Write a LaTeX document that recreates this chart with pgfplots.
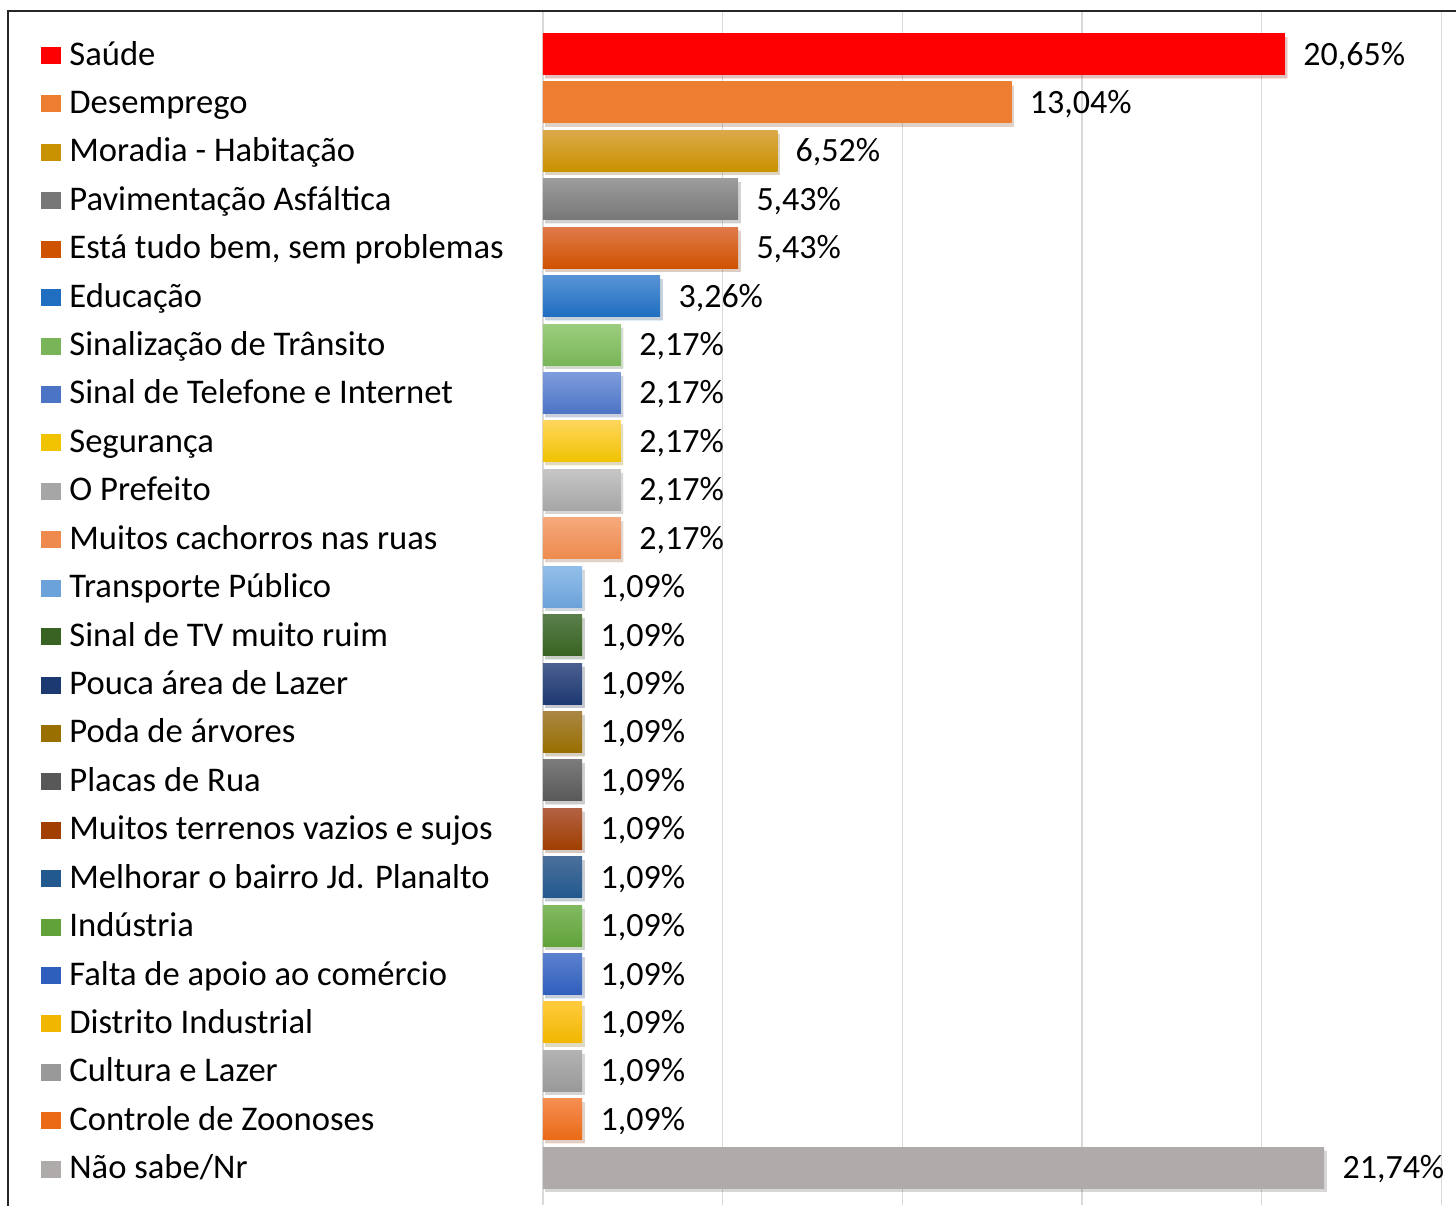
\documentclass[border=0pt]{standalone}
\usepackage{fontspec}
\setmainfont{Carlito}
\usepackage{pgfplots}
\pgfplotsset{compat=1.18}
\definecolor{a1}{HTML}{FF0000}\definecolor{b1}{HTML}{FF0000}
\definecolor{a2}{HTML}{ED7D31}\definecolor{b2}{HTML}{ED7D31}
\definecolor{a3}{HTML}{DBA94A}\definecolor{b3}{HTML}{C99200}
\definecolor{a4}{HTML}{9C9C9C}\definecolor{b4}{HTML}{777777}
\definecolor{a5}{HTML}{E07A4A}\definecolor{b5}{HTML}{CF5200}
\definecolor{a6}{HTML}{5893D6}\definecolor{b6}{HTML}{1F6EC0}
\definecolor{a7}{HTML}{9CCD7E}\definecolor{b7}{HTML}{79B558}
\definecolor{a8}{HTML}{7E9DDD}\definecolor{b8}{HTML}{4C74C5}
\definecolor{a9}{HTML}{FFD65C}\definecolor{b9}{HTML}{F0C200}
\definecolor{a10}{HTML}{C6C6C6}\definecolor{b10}{HTML}{A6A6A6}
\definecolor{a11}{HTML}{F5A97C}\definecolor{b11}{HTML}{EE8A4E}
\definecolor{a12}{HTML}{92BFE9}\definecolor{b12}{HTML}{6CA2DA}
\definecolor{a13}{HTML}{5B7F4B}\definecolor{b13}{HTML}{386322}
\definecolor{a14}{HTML}{4B5F91}\definecolor{b14}{HTML}{1D3971}
\definecolor{a15}{HTML}{AA8644}\definecolor{b15}{HTML}{996F00}
\definecolor{a16}{HTML}{7B7B7B}\definecolor{b16}{HTML}{585858}
\definecolor{a17}{HTML}{B26244}\definecolor{b17}{HTML}{A03F00}
\definecolor{a18}{HTML}{4B6F9A}\definecolor{b18}{HTML}{22598F}
\definecolor{a19}{HTML}{82BA62}\definecolor{b19}{HTML}{61A23A}
\definecolor{a20}{HTML}{5B81CD}\definecolor{b20}{HTML}{2F5FBD}
\definecolor{a21}{HTML}{FFCB3C}\definecolor{b21}{HTML}{F1B700}
\definecolor{a22}{HTML}{B2B2B2}\definecolor{b22}{HTML}{999999}
\definecolor{a23}{HTML}{F58E52}\definecolor{b23}{HTML}{EA6A16}
\definecolor{a24}{HTML}{AFABAB}\definecolor{b24}{HTML}{AFABAB}
\newcommand{\sq}[1]{\textcolor{#1}{\rule[0.5pt]{10pt}{8.5pt}}\hspace{4pt}}
\begin{document}
\begin{tikzpicture}
\begin{axis}[
  at={(0,0)}, anchor=south west,
  scale only axis, width=456.5pt, height=597pt,
  xbar, bar width=20.5pt, bar shift=0pt,
  xmin=0, xmax=25.41,
  ymin=-0.888, ymax=23.77, y dir=reverse,
  axis line style={draw=none},
  xtick={0,5,10,15,20,25}, xticklabels={},
  xmajorgrids, grid style={color=black!15, line width=0.75pt},
  ytick={0,...,23},
  major tick length=0pt,
  yticklabels={{\sq{a1}Saúde},{\sq{a2}Desemprego},{\sq{b3}Moradia - Habitação},{\sq{b4}Pavimentação Asfáltica},{\sq{b5}Está tudo bem, sem problemas},{\sq{b6}Educação},{\sq{b7}Sinalização de Trânsito},{\sq{b8}Sinal de Telefone e Internet},{\sq{b9}Segurança},{\sq{b10}O Prefeito},{\sq{b11}Muitos cachorros nas ruas},{\sq{b12}Transporte Público},{\sq{b13}Sinal de TV muito ruim},{\sq{b14}Pouca área de Lazer},{\sq{b15}Poda de árvores},{\sq{b16}Placas de Rua},{\sq{b17}Muitos terrenos vazios e sujos},{\sq{b18}Melhorar o bairro Jd. Planalto},{\sq{b19}Indústria},{\sq{b20}Falta de apoio ao comércio},{\sq{b21}Distrito Industrial},{\sq{b22}Cultura e Lazer},{\sq{b23}Controle de Zoonoses},{\sq{b24}Não sabe/Nr}},
  yticklabel style={anchor=base west, inner sep=0pt, xshift=-251pt, yshift=-5.5pt, font=\fontsize{17.3}{20}\selectfont},
  point meta=explicit symbolic,
  nodes near coords,
  nodes near coords style={anchor=base west, inner sep=0pt, xshift=9pt, yshift=-5.5pt, font=\fontsize{17}{20}\selectfont, text=black},
  every axis plot/.append style={draw=none, preaction={fill=black, fill opacity=0.13, transform canvas={xshift=1.2pt, yshift=-1.8pt}}},
  clip=false,
]
\addplot[top color=a1, bottom color=b1] coordinates {(20.65,0) [20,65\%]};
\addplot[top color=a2, bottom color=b2] coordinates {(13.04,1) [13,04\%]};
\addplot[top color=a3, bottom color=b3] coordinates {(6.52,2) [6,52\%]};
\addplot[top color=a4, bottom color=b4] coordinates {(5.43,3) [5,43\%]};
\addplot[top color=a5, bottom color=b5] coordinates {(5.43,4) [5,43\%]};
\addplot[top color=a6, bottom color=b6] coordinates {(3.26,5) [3,26\%]};
\addplot[top color=a7, bottom color=b7] coordinates {(2.17,6) [2,17\%]};
\addplot[top color=a8, bottom color=b8] coordinates {(2.17,7) [2,17\%]};
\addplot[top color=a9, bottom color=b9] coordinates {(2.17,8) [2,17\%]};
\addplot[top color=a10, bottom color=b10] coordinates {(2.17,9) [2,17\%]};
\addplot[top color=a11, bottom color=b11] coordinates {(2.17,10) [2,17\%]};
\addplot[top color=a12, bottom color=b12] coordinates {(1.09,11) [1,09\%]};
\addplot[top color=a13, bottom color=b13] coordinates {(1.09,12) [1,09\%]};
\addplot[top color=a14, bottom color=b14] coordinates {(1.09,13) [1,09\%]};
\addplot[top color=a15, bottom color=b15] coordinates {(1.09,14) [1,09\%]};
\addplot[top color=a16, bottom color=b16] coordinates {(1.09,15) [1,09\%]};
\addplot[top color=a17, bottom color=b17] coordinates {(1.09,16) [1,09\%]};
\addplot[top color=a18, bottom color=b18] coordinates {(1.09,17) [1,09\%]};
\addplot[top color=a19, bottom color=b19] coordinates {(1.09,18) [1,09\%]};
\addplot[top color=a20, bottom color=b20] coordinates {(1.09,19) [1,09\%]};
\addplot[top color=a21, bottom color=b21] coordinates {(1.09,20) [1,09\%]};
\addplot[top color=a22, bottom color=b22] coordinates {(1.09,21) [1,09\%]};
\addplot[top color=a23, bottom color=b23] coordinates {(1.09,22) [1,09\%]};
\addplot[top color=a24, bottom color=b24] coordinates {(21.74,23) [21,74\%]};
\end{axis}
\draw[line width=1pt, color=black!85] (-267.5pt,-20pt) -- (-267.5pt,597pt) -- (480pt,597pt);
\pgfresetboundingbox
\useasboundingbox (-271.5pt,0pt) rectangle (456.5pt,602.5pt);
\end{tikzpicture}
\end{document}
